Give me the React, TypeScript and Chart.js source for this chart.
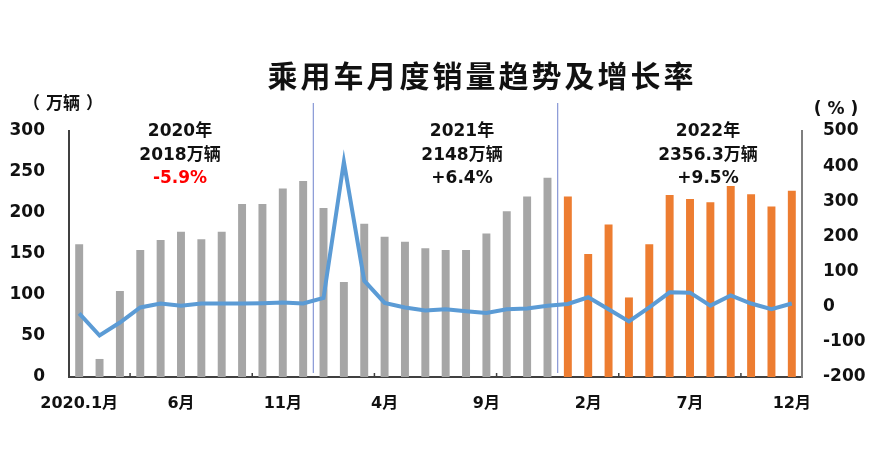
import React, { useEffect, useRef } from "react";
import { Chart, registerables } from "chart.js";

Chart.register(...registerables);

const categories = [
  "2020.1月", "2月", "3月", "4月", "5月", "6月", "7月", "8月", "9月", "10月", "11月", "12月",
  "1月", "2月", "3月", "4月", "5月", "6月", "7月", "8月", "9月", "10月", "11月", "12月",
  "1月", "2月", "3月", "4月", "5月", "6月", "7月", "8月", "9月", "10月", "11月", "12月",
];

const sales2020 = [162, 22, 105, 155, 167, 177, 168, 177, 211, 211, 230, 239];
const sales2021 = [206, 116, 187, 171, 165, 157, 155, 155, 175, 202, 220, 243];
const sales2022 = [220, 150, 186, 97, 162, 222, 217, 213, 233, 223, 208, 227];

const growthRate = [
  -19, -82, -45, -2, 9, 3, 9, 9, 9, 10, 12, 9,
  25, 412, 74, 11, -2, -11, -7, -13, -18, -7, -5, 3,
  8, 27, -7, -42, -2, 41, 40, 3, 32, 9, -7, 9,
];

const leftTicks = { min: 0, max: 300, step: 50 };
const rightTicks = { min: -200, max: 500, step: 100 };

const titleText = "乘用车月度销量趋势及增长率";
const leftUnit = "（ 万辆 ）";
const rightUnit = "( % )";
const yearNotes = [
  { year: "2020年", total: "2018万辆", change: "-5.9%" },
  { year: "2021年", total: "2148万辆", change: "+6.4%" },
  { year: "2022年", total: "2356.3万辆", change: "+9.5%" },
];

const FONT = "'DejaVu Sans', 'Noto Sans CJK SC', sans-serif";

export default function App() {
  const canvasRef = useRef<HTMLCanvasElement | null>(null);

  useEffect(() => {
    const canvas = canvasRef.current;
    if (!canvas) return;
    const sales = [...sales2020, ...sales2021, ...sales2022];
    const barColors = sales.map((_, i) => (i < 24 ? "#a6a6a6" : "#ed7d31"));

    const overlay = {
      id: "overlay",
      beforeDatasetsDraw(chart: any) {
        const ctx = chart.ctx;
        const x = chart.scales.x;
        ctx.save();
        ctx.strokeStyle = "#8797d6";
        ctx.lineWidth = 1.2;
        [12, 24].forEach((i) => {
          const px = (x.getPixelForValue(i - 1) + x.getPixelForValue(i)) / 2;
          ctx.beginPath();
          ctx.moveTo(px, 103);
          ctx.lineTo(px, 373);
          ctx.stroke();
        });
        ctx.strokeStyle = "#404040";
        ctx.lineWidth = 1.5;
        [3, 9, 15, 21, 27, 33].forEach((i) => {
          const px = (x.getPixelForValue(i - 1) + x.getPixelForValue(i)) / 2;
          ctx.beginPath();
          ctx.moveTo(px, chart.chartArea.bottom - 4);
          ctx.lineTo(px, chart.chartArea.bottom);
          ctx.stroke();
        });
        ctx.restore();
      },
      afterDraw(chart: any) {
        const ctx = chart.ctx;
        ctx.save();
        ctx.textAlign = "center";
        ctx.textBaseline = "middle";
        ctx.fillStyle = "#111111";
        ctx.font = `bold 30px 'Noto Sans CJK SC', sans-serif`;
        try { (ctx as any).letterSpacing = "3px"; } catch (e) {}
        ctx.fillText(titleText, 482, 76);
        try { (ctx as any).letterSpacing = "0px"; } catch (e) {}
        ctx.font = `bold 17px ${FONT}`;
        ctx.fillStyle = "#111111";
        ctx.fillText(leftUnit, 63, 105);
        ctx.fillText(rightUnit, 836, 110);
        ctx.font = `bold 17px ${FONT}`;
        yearNotes.forEach((n, k) => {
          const cx = k === 0 ? 180 : k === 1 ? 462 : 708;
          ctx.fillStyle = "#111111";
          ctx.fillText(n.year, cx, 132);
          ctx.fillText(n.total, cx, 156);
          ctx.fillStyle = k === 0 ? "#ff0000" : "#111111";
          ctx.fillText(n.change, cx, 179);
        });
        ctx.restore();
      },
    };

    const chart = new Chart(canvas, {
      type: "bar",
      data: {
        labels: categories,
        datasets: [
          {
            type: "line",
            label: "增长率",
            data: growthRate,
            yAxisID: "y1",
            borderColor: "#5b9bd5",
            backgroundColor: "#5b9bd5",
            borderWidth: 4,
            pointRadius: 0,
            tension: 0,
            order: 0,
          } as any,
          {
            type: "bar",
            label: "销量",
            data: sales,
            yAxisID: "y",
            backgroundColor: barColors,
            categoryPercentage: 1,
            barPercentage: 0.39,
            order: 1,
          },
        ],
      },
      options: {
        responsive: false,
        animation: false,
        layout: { padding: { top: 131, left: 0, right: 0, bottom: 0 } },
        plugins: {
          legend: { display: false },
          tooltip: { enabled: false },
          title: { display: false },
        },
        scales: {
          x: {
            type: "category",
            offset: true,
            grid: { display: false, drawTicks: false },
            border: { display: true, color: "#404040", width: 2 },
            ticks: {
              autoSkip: false,
              maxRotation: 0,
              minRotation: 0,
              padding: 17,
              color: "#111111",
              font: { family: FONT, size: 16, weight: "bold" },
              callback: (_v: any, i: number) => (i % 5 === 0 ? categories[i] : ""),
            },
            afterFit: (s: any) => {
              s.height = 76;
            },
          },
          y: {
            position: "left",
            min: leftTicks.min,
            max: leftTicks.max,
            grid: { display: false, drawTicks: false },
            border: { display: true, color: "#404040", width: 2 },
            ticks: {
              stepSize: leftTicks.step,
              padding: 24,
              color: "#111111",
              font: { family: FONT, size: 17, weight: "bold" },
            },
            afterFit: (s: any) => {
              s.width = 69;
            },
          },
          y1: {
            position: "right",
            min: rightTicks.min,
            max: rightTicks.max,
            grid: { display: false, drawTicks: false },
            border: { display: true, color: "#7f7f7f", width: 2 },
            ticks: {
              stepSize: rightTicks.step,
              padding: 21,
              color: "#111111",
              font: { family: FONT, size: 17, weight: "bold" },
            },
            afterFit: (s: any) => {
              s.width = 90;
            },
          },
        },
      } as any,
      plugins: [overlay],
    });

    return () => chart.destroy();
  }, []);

  return (
    <div style={{ position: "fixed", left: 0, top: 0, width: 892, height: 453, background: "#ffffff" }}>
      <canvas ref={canvasRef} width={892} height={453} />
    </div>
  );
}
